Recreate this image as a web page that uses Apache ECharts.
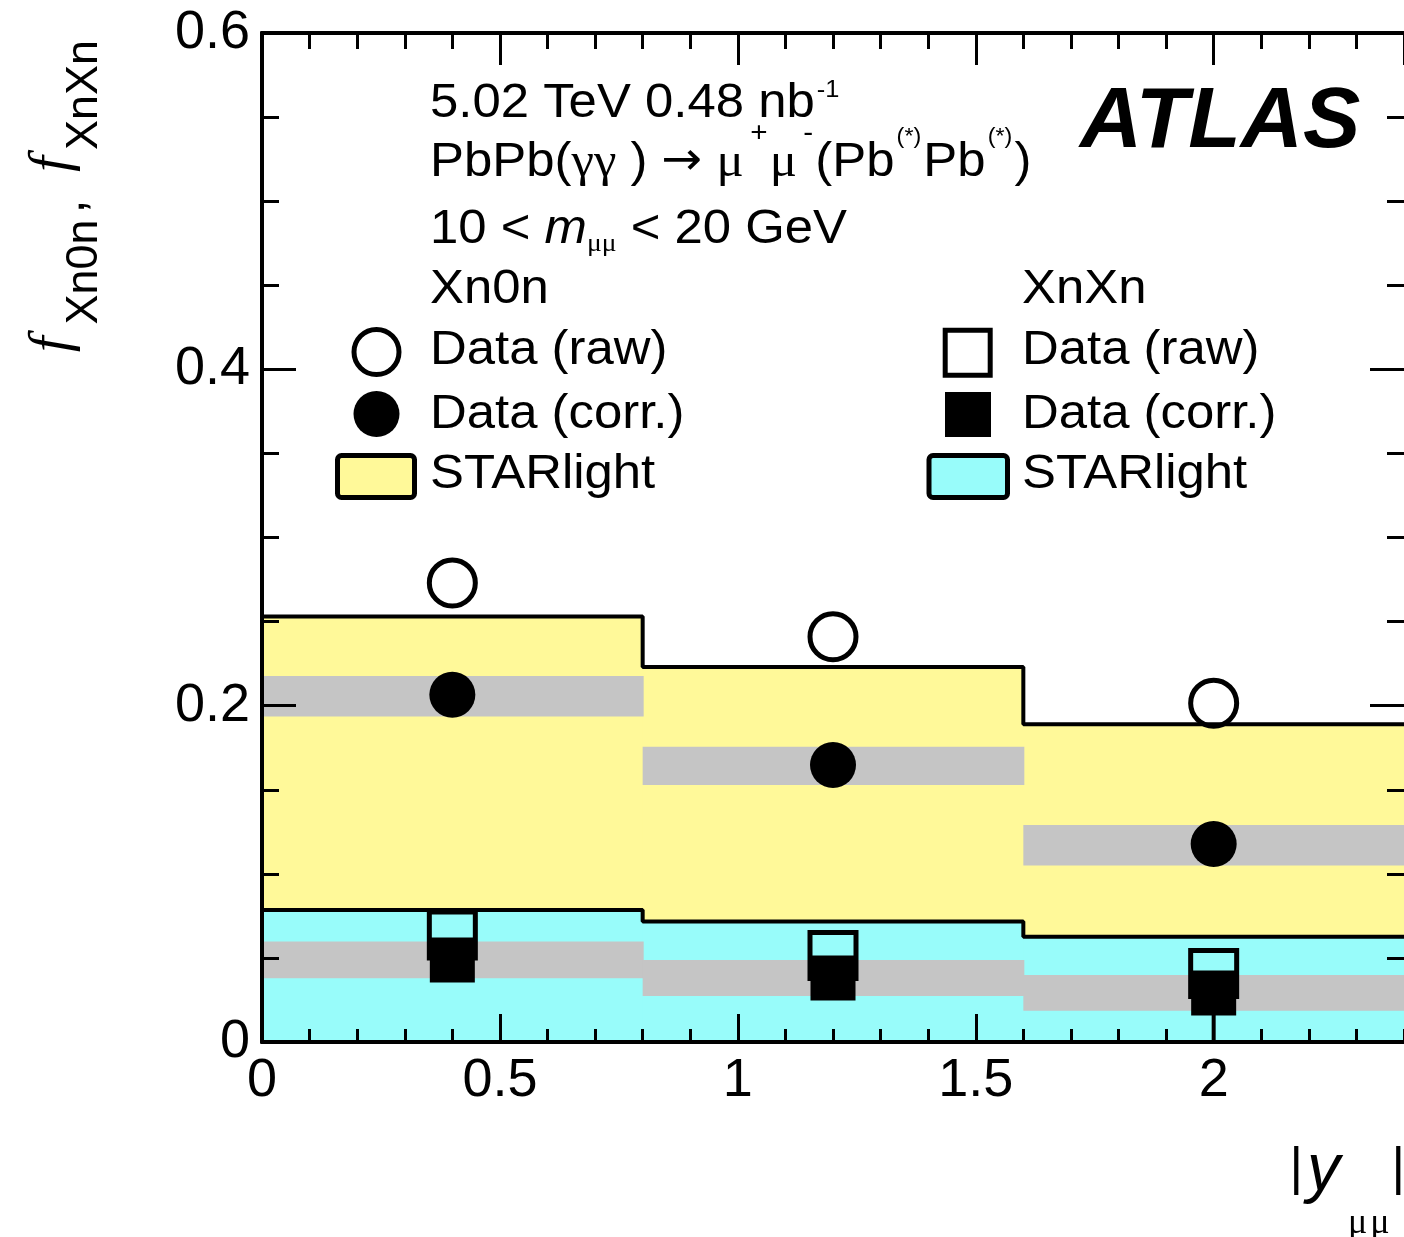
<!DOCTYPE html>
<html><head><meta charset="utf-8">
<script src="https://cdn.jsdelivr.net/npm/echarts@6/dist/echarts.min.js"></script>
<style>html,body{margin:0;padding:0;background:#fff;overflow:hidden}#c{width:1404px;height:1237px}</style>
</head><body><div id="c"></div>
<script>
// ---- data ----
const binEdges = [0, 0.8, 1.6, 2.4];
const binCenters = [0.4, 1.2, 2.0];
const xTickLabels = ['0', '0.5', '1', '1.5', '2'];
const yTickLabels = ['0', '0.2', '0.4', '0.6'];
const xn0nStarlight = [0.253, 0.223, 0.189];
const xnxnStarlight = [0.0785, 0.0716, 0.0626];
const xn0nRaw = [0.273, 0.241, 0.2015];
const xn0nCorr = [0.2065, 0.1647, 0.1177];
const xn0nSysLow = [0.1935, 0.1528, 0.105];
const xn0nSysHigh = [0.2177, 0.1756, 0.129];
const xnxnRaw = [0.0636, 0.0514, 0.0407];
const xnxnCorr = [0.0488, 0.038, 0.0291];
const xnxnSysLow = [0.0379, 0.0274, 0.0186];
const xnxnSysHigh = [0.0597, 0.0488, 0.0398];
const xnxnCorrStatLow = [0.0488, 0.038, 0.001];

// ---- styles ----
const SANS = '"Liberation Sans", Arial, sans-serif';
const SERIF = '"Liberation Serif", "Times New Roman", serif';
const YELLOW = '#FFF999';
const CYAN = '#98FCFA';
const GREY = '#C5C5C5';

const binLo = binEdges.slice(0, -1);
const binHi = binEdges.slice(1);
const zeros = binLo.map(() => 0);

function bandSeries(name, ylo, yhi, color, z) {
  return {
    type: 'custom', name, z, silent: true, clip: true,
    data: binLo.map((l, i) => [l, binHi[i], ylo[i], yhi[i]]),
    encode: { x: [0, 1], y: [2, 3] },
    renderItem(params, api) {
      const p0 = api.coord([api.value(0), api.value(2)]);
      const p1 = api.coord([api.value(1), api.value(3)]);
      return { type: 'rect', shape: { x: p0[0], y: p1[1], width: p1[0] - p0[0] + 1, height: p0[1] - p1[1] }, style: { fill: color } };
    }
  };
}
function stepSeries(name, vals, z) {
  return {
    type: 'line', name, z, silent: true, step: 'end', symbol: 'none',
    data: binEdges.map((e, i) => [e, vals[Math.min(i, vals.length - 1)]]),
    lineStyle: { color: '#000', width: 4, opacity: 1 }
  };
}
function markerSeries(name, vals, symbol, size, filled, z) {
  return {
    type: 'scatter', name, z, silent: true, symbol, symbolSize: size,
    data: binCenters.map((x, i) => [x, vals[i]]),
    itemStyle: filled ? { color: '#000', opacity: 1 } : { color: 'rgba(0,0,0,0)', borderColor: '#000', borderWidth: 5, opacity: 1 }
  };
}
function fmt(labels) {
  return v => { const l = labels.find(s => Math.abs(parseFloat(s) - v) < 1e-6); return l === undefined ? '' : l; };
}
const tickLine = { color: '#000', width: 3 };
function xAx(pos, interval, len, withLabel) {
  return {
    type: 'value', position: pos, min: 0, max: 2.4, interval, z: 10,
    axisLine: { show: true, onZero: false, lineStyle: { color: '#000', width: 4 } },
    axisTick: { show: true, inside: true, length: len, lineStyle: tickLine },
    splitLine: { show: false },
    axisLabel: withLabel ? { show: true, showMaxLabel: false, formatter: fmt(xTickLabels), color: '#000', fontSize: 54, fontFamily: SANS, margin: 12 } : { show: false }
  };
}
function yAx(pos, withLabel) {
  return {
    type: 'value', position: pos, min: 0, max: 0.6, interval: 0.2, z: 10,
    axisLine: { show: withLabel, onZero: false, lineStyle: { color: '#000', width: 4 } },
    axisTick: { show: true, inside: true, length: 34, lineStyle: tickLine },
    minorTick: { show: true, splitNumber: 4, length: 17, lineStyle: tickLine },
    splitLine: { show: false }, minorSplitLine: { show: false },
    axisLabel: withLabel ? { show: true, formatter: fmt(yTickLabels), color: '#000', fontSize: 54, fontFamily: SANS, margin: 12, padding: [10, 0, 0, 0] } : { show: false }
  };
}

const T = (font, h, extra) => Object.assign({ font, height: h, verticalAlign: 'top', fill: '#000' }, extra || {});

const graphics = [
  // header
  { type: 'text', x: 430, y: 80, scaleX: 1.06, style: { text: '{m|5.02 TeV 0.48 nb}{s|-1}', align: 'left', verticalAlign: 'top', font: '48px ' + SANS,
    rich: { m: T('48px ' + SANS, 48), s: T('24px ' + SANS, 20, { padding: [0, 0, 0, 2] }) } } },
  { type: 'text', x: 430, y: 110, scaleX: 1.06, style: { text: '{m|PbPb(}{g|γγ}{m| ) }{a|→}{m| }{g|μ}{p|+}{g|μ}{p|-}{m|(Pb}{q|(*)}{m|Pb}{q|(*)}{m|)}', align: 'left', verticalAlign: 'top', font: '48px ' + SANS,
    rich: { m: T('48px ' + SANS, 106), a: T('46px "DejaVu Sans", sans-serif', 104), g: T('48px ' + SERIF, 106), p: T('28px ' + SANS, 46, { padding: [0, 2, 0, 6] }), q: T('22px ' + SANS, 54, { padding: [0, 2, 0, 2] }) } } },
  { type: 'text', x: 430, y: 200, scaleX: 1.06, style: { text: '{m|10 < }{i|m}{u|μμ}{m| < 20 GeV}', align: 'left', verticalAlign: 'top', font: '48px ' + SANS,
    rich: { m: T('48px ' + SANS, 60), i: T('italic 48px ' + SANS, 60), u: T('26px ' + SERIF, 89) } } },
  // ATLAS
  { type: 'text', x: 1080, y: 123, style: { text: 'ATLAS', font: 'italic bold 86px ' + SANS, fill: '#000', align: 'left', verticalAlign: 'middle' } },
  // legend left column
  { type: 'text', x: 430, y: 290, scaleX: 1.06, style: { text: 'Xn0n', font: '48px ' + SANS, fill: '#000', verticalAlign: 'middle' } },
  { type: 'text', x: 430, y: 351, scaleX: 1.06, style: { text: 'Data (raw)', font: '48px ' + SANS, fill: '#000', verticalAlign: 'middle' } },
  { type: 'text', x: 430, y: 415, scaleX: 1.06, style: { text: 'Data (corr.)', font: '48px ' + SANS, fill: '#000', verticalAlign: 'middle' } },
  { type: 'text', x: 430, y: 475, scaleX: 1.06, style: { text: 'STARlight', font: '48px ' + SANS, fill: '#000', verticalAlign: 'middle' } },
  { type: 'circle', shape: { cx: 376.5, cy: 352, r: 22.5 }, style: { fill: 'none', stroke: '#000', lineWidth: 5 } },
  { type: 'circle', shape: { cx: 376.5, cy: 414, r: 23 }, style: { fill: '#000' } },
  { type: 'rect', shape: { x: 337.5, y: 455.5, width: 77, height: 42, r: 4 }, style: { fill: YELLOW, stroke: '#000', lineWidth: 5 } },
  // legend right column
  { type: 'text', x: 1022, y: 290, scaleX: 1.06, style: { text: 'XnXn', font: '48px ' + SANS, fill: '#000', verticalAlign: 'middle' } },
  { type: 'text', x: 1022, y: 351, scaleX: 1.06, style: { text: 'Data (raw)', font: '48px ' + SANS, fill: '#000', verticalAlign: 'middle' } },
  { type: 'text', x: 1022, y: 415, scaleX: 1.06, style: { text: 'Data (corr.)', font: '48px ' + SANS, fill: '#000', verticalAlign: 'middle' } },
  { type: 'text', x: 1022, y: 475, scaleX: 1.06, style: { text: 'STARlight', font: '48px ' + SANS, fill: '#000', verticalAlign: 'middle' } },
  { type: 'rect', shape: { x: 945.2, y: 330.2, width: 45, height: 45 }, style: { fill: 'none', stroke: '#000', lineWidth: 5 } },
  { type: 'rect', shape: { x: 945, y: 392, width: 46, height: 45 }, style: { fill: '#000' } },
  { type: 'rect', shape: { x: 929, y: 455.5, width: 78.5, height: 42, r: 4 }, style: { fill: CYAN, stroke: '#000', lineWidth: 5 } },
  // y axis title (rotated)
  { type: 'text', x: 30, y: 40, rotation: Math.PI / 2, style: { text: '{f|f}{s0|Xn0n}{c|, }{f|f}{s|XnXn}', align: 'right', verticalAlign: 'top', font: '50px ' + SANS,
    rich: { f: T('italic 56px ' + SERIF, 47, { padding: [0, 6, 0, 0] }), s0: T('45px ' + SANS, 109, { padding: [0, 6, 0, 6] }), s: T('45px ' + SANS, 109), c: T('50px ' + SANS, 81, { padding: [0, 14, 0, 0] }) } } },
  // x axis title
  { type: 'text', x: 1405, y: 1130, style: { text: '{b||}{y|y}{u1|μ}{u2|μ}{b||}', align: 'right', verticalAlign: 'top', font: '52px ' + SANS,
    rich: { b: T('52px ' + SANS, 80), y: T('italic 66px ' + SANS, 83, { padding: [0, 8, 0, 4] }), u1: T('36px ' + SERIF, 188, { padding: [0, 3, 0, 0] }), u2: T('36px ' + SERIF, 188, { padding: [0, 2, 0, 0] }) } } }
];

const option = {
  animation: false,
  backgroundColor: '#fff',
  grid: { left: 262, top: 33, width: 1144, height: 1009, containLabel: false },
  xAxis: [xAx('bottom', 0.5, 28, true), xAx('bottom', 0.1, 13, false), xAx('top', 0.5, 32, false), xAx('top', 0.1, 16, false)],
  yAxis: [yAx('left', true), yAx('right', false)],
  series: [
    bandSeries('STARlight Xn0n', zeros, xn0nStarlight, YELLOW, 1),
    stepSeries('STARlight Xn0n outline', xn0nStarlight, 2),
    bandSeries('STARlight XnXn', zeros, xnxnStarlight, CYAN, 3),
    stepSeries('STARlight XnXn outline', xnxnStarlight, 4),
    bandSeries('Xn0n syst', xn0nSysLow, xn0nSysHigh, GREY, 5),
    bandSeries('XnXn syst', xnxnSysLow, xnxnSysHigh, GREY, 5),
    {
      type: 'custom', name: 'XnXn stat', z: 6, silent: true,
      data: binCenters.map((x, i) => [x, xnxnCorrStatLow[i], xnxnCorr[i]]),
      encode: { x: 0, y: [1, 2] },
      renderItem(params, api) {
        const a = api.coord([api.value(0), api.value(1)]);
        const b = api.coord([api.value(0), api.value(2)]);
        return { type: 'line', shape: { x1: a[0], y1: a[1], x2: b[0], y2: b[1] }, style: { stroke: '#000', lineWidth: 4 } };
      }
    },
    markerSeries('Xn0n raw', xn0nRaw, 'circle', 46, false, 7),
    markerSeries('Xn0n corr', xn0nCorr, 'circle', 46, true, 7),
    markerSeries('XnXn raw', xnxnRaw, 'rect', 46, false, 7),
    markerSeries('XnXn corr', xnxnCorr, 'rect', 45, true, 7)
  ],
  graphic: graphics
};
const chart = echarts.init(document.getElementById('c'), null, { renderer: 'canvas' });
chart.setOption(option);
</script></body></html>
